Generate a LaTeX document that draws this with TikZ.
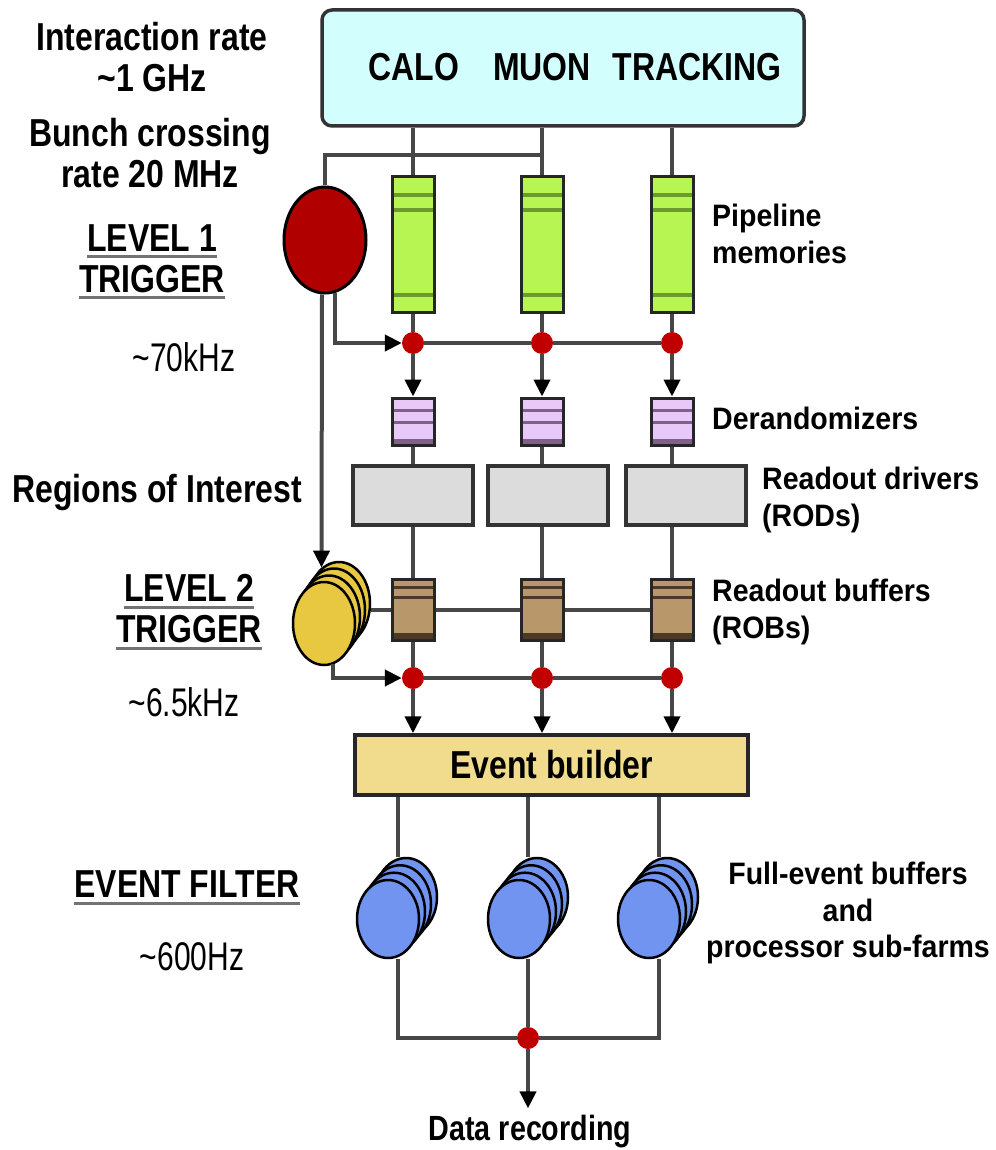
\documentclass[tikz,border=0pt]{standalone}
\usepackage{fontspec}
\setmainfont{Liberation Sans}[FakeStretch=0.92]
\newfontfamily\condfont{Liberation Sans}[FakeStretch=0.82]
\newfontfamily\ratefont{Liberation Sans}[FakeStretch=0.75]
\usepackage{tikz}
\usetikzlibrary{positioning,arrows.meta,calc,shapes.geometric}

\definecolor{detcyan}{HTML}{D2FFFE}
\definecolor{trigred}{HTML}{B00000}
\definecolor{dotred}{HTML}{C00000}
\definecolor{pipegreen}{HTML}{B6F552}
\definecolor{pipedark}{HTML}{6C9A30}
\definecolor{derpurple}{HTML}{E8C8F8}
\definecolor{derdark}{HTML}{806088}
\definecolor{rodgray}{HTML}{DCDCDC}
\definecolor{robtan}{HTML}{B8976A}
\definecolor{robdark}{HTML}{4A3A28}
\definecolor{l2yellow}{HTML}{E8C840}
\definecolor{evbuild}{HTML}{F0DC8C}
\definecolor{efblue}{HTML}{7094F0}

% underline of one line of a trigger label
\newcommand{\ulabel}[1]{\leavevmode\setbox0=\hbox{#1}\rlap{\textcolor{black!55}{\rule[-7pt]{\wd0}{3pt}}}\box0}

\begin{document}
\begin{tikzpicture}[
  x=1pt, y=-1pt,
  wire/.style={line width=4pt, black!72},
  arr/.style={wire, -{Triangle[length=17pt,width=16pt,color=black]}},
  dot/.style={circle, fill=dotred, minimum size=22pt, inner sep=0pt},
  lab/.style={font=\condfont\bfseries\fontsize{39}{41}\selectfont, align=center, inner sep=0pt},
  rate/.style={font=\ratefont\fontsize{40}{40}\selectfont, inner sep=0pt},
  desc/.style={font=\bfseries\fontsize{31}{36.5}\selectfont, align=left, anchor=west, inner sep=0pt},
  detbox/.style={draw=black!80, line width=3.5pt, fill=detcyan, rounded corners=10pt},
  pipe/.style={draw=black!85, line width=3pt, fill=pipegreen, minimum width=42pt, minimum height=135pt, inner sep=0pt,
    path picture={\draw[pipedark, line width=4pt]
      ([yshift=-18pt]path picture bounding box.north west) -- ([yshift=-18pt]path picture bounding box.north east)
      ([yshift=-33pt]path picture bounding box.north west) -- ([yshift=-33pt]path picture bounding box.north east)
      ([yshift=17pt]path picture bounding box.south west) -- ([yshift=17pt]path picture bounding box.south east);}},
  der/.style={draw=black!85, line width=3pt, fill=derpurple, minimum width=42pt, minimum height=47pt, inner sep=0pt,
    path picture={\draw[derdark, line width=3pt]
      ([yshift=-12pt]path picture bounding box.north west) -- ([yshift=-12pt]path picture bounding box.north east)
      ([yshift=-24pt]path picture bounding box.north west) -- ([yshift=-24pt]path picture bounding box.north east);
      \draw[derdark, line width=6pt]
      ([yshift=3pt]path picture bounding box.south west) -- ([yshift=3pt]path picture bounding box.south east);}},
  rod/.style={draw=black!80, line width=4pt, fill=rodgray, minimum width=120pt, minimum height=59pt, inner sep=0pt},
  rob/.style={draw=black!85, line width=3pt, fill=robtan, minimum width=42pt, minimum height=61pt, inner sep=0pt,
    path picture={\draw[robdark, line width=3pt]
      ([yshift=-8pt]path picture bounding box.north west) -- ([yshift=-8pt]path picture bounding box.north east)
      ([yshift=-18pt]path picture bounding box.north west) -- ([yshift=-18pt]path picture bounding box.north east);
      \draw[robdark, line width=6pt]
      ([yshift=4pt]path picture bounding box.south west) -- ([yshift=4pt]path picture bounding box.south east);}},
  l1disk/.style={ellipse, draw=black, line width=3pt, fill=trigred, minimum width=82pt, minimum height=106pt, inner sep=0pt},
  l2disk/.style={ellipse, draw=black, line width=2.5pt, fill=l2yellow, minimum width=62pt, minimum height=83pt, inner sep=0pt},
  efdisk/.style={ellipse, draw=black, line width=2.5pt, fill=efblue, minimum width=62pt, minimum height=78pt, inner sep=0pt},
  evb/.style={draw=black!85, line width=3.5pt, fill=evbuild, minimum width=393pt, minimum height=60pt,
    font=\condfont\bfseries\fontsize{39}{41}\selectfont}
]

  \path[use as bounding box, fill=white] (0,0) rectangle (995,1150);

  % Detector box
  \node[detbox, minimum width=482pt, minimum height=116pt] (det) at (563,68) {};
  \node[lab] (calo) at (414,67.5) {CALO};
  \node[lab] (muon) at (542,67.5) {MUON};
  \node[lab] (trk)  at (697,67.5) {TRACKING};

  % Pipeline memories
  \node[pipe] (pipe1) at (413,244.5) {};
  \node[pipe] (pipe2) at (542,244.5) {};
  \node[pipe] (pipe3) at (672,244.5) {};
  \draw[wire] (det.south -| pipe1) -- (pipe1.north);
  \draw[wire] (det.south -| pipe2) -- (pipe2.north);
  \draw[wire] (det.south -| pipe3) -- (pipe3.north);

  % Level 1 trigger
  \node[l1disk] (l1) at (325,240) {};
  \coordinate (tap) at (325,155);
  \draw[wire] (pipe2.north |- tap) -- (tap) -- (l1.north);

  % Level 1 accept
  \node[dot] (a1) at (413,343) {};
  \node[dot] (a2) at (542,343) {};
  \node[dot] (a3) at (672,343) {};
  \draw[wire] (pipe1.south) -- (a1);
  \draw[wire] (pipe2.south) -- (a2);
  \draw[wire] (pipe3.south) -- (a3);
  \draw[arr] ([xshift=10pt,yshift=2pt]l1.south) |- (a1.west);
  \draw[wire] (a1) -- (a2) -- (a3);

  % Derandomizers and RODs
  \node[der] (der1) at (413,421.5) {};
  \node[der] (der2) at (542,421.5) {};
  \node[der] (der3) at (672,421.5) {};
  \draw[arr] (a1) -- (der1.north);
  \draw[arr] (a2) -- (der2.north);
  \draw[arr] (a3) -- (der3.north);
  \node[rod] (rod1) at (413,495.5) {};
  \node[rod] (rod2) at (548,495.5) {};
  \node[rod] (rod3) at (686,495.5) {};
  \draw[wire] (der1.south) -- (der1.south |- rod1.north);
  \draw[wire] (der2.south) -- (der2.south |- rod2.north);
  \draw[wire] (der3.south) -- (der3.south |- rod3.north);

  % ROBs
  \node[rob] (rob1) at (413,609.5) {};
  \node[rob] (rob2) at (542,609.5) {};
  \node[rob] (rob3) at (672,609.5) {};
  \draw[wire] (der1.south |- rod1.south) -- (rob1.north);
  \draw[wire] (der2.south |- rod2.south) -- (rob2.north);
  \draw[wire] (der3.south |- rod3.south) -- (rob3.north);

  % Level 2 trigger
  \node[l2disk] (l2c) at (339,603.5) {};
  \node[l2disk] (l2b) at (334,610) {};
  \node[l2disk] (l2a) at (329,617) {};
  \node[l2disk] (l2)  at (324,623.5) {};
  \draw[arr] ([xshift=-3pt]l1.south) -- (l2c.116);
  \draw[wire] (l2c.east |- rob1) -- (rob1.west);
  \draw[wire] (rob1.east) -- (rob2.west);
  \draw[wire] (rob2.east) -- (rob3.west);

  % Level 2 accept
  \node[dot] (b1) at (413,678) {};
  \node[dot] (b2) at (542,678) {};
  \node[dot] (b3) at (672,678) {};
  \draw[wire] (rob1.south) -- (b1);
  \draw[wire] (rob2.south) -- (b2);
  \draw[wire] (rob3.south) -- (b3);
  \draw[arr] ([xshift=9pt,yshift=2pt]l2.south) |- (b1.west);
  \draw[wire] (b1) -- (b2) -- (b3);

  % Event builder
  \node[evb] (evb) at (551.5,765) {Event builder};
  \draw[arr] (b1) -- (b1 |- evb.north);
  \draw[arr] (b2) -- (b2 |- evb.north);
  \draw[arr] (b3) -- (b3 |- evb.north);

  % Event filter sub-farms
  \coordinate (efx1) at (398,0);
  \coordinate (efx2) at (528,0);
  \coordinate (efx3) at (659,0);
  \node[efdisk] (ef1c) at (406,897) {};
  \node[efdisk] (ef1b) at (400,904.3) {};
  \node[efdisk] (ef1a) at (394,911.7) {};
  \node[efdisk] (ef1)  at (388,919) {};
  \node[efdisk] (ef2c) at (537,897) {};
  \node[efdisk] (ef2b) at (531,904.3) {};
  \node[efdisk] (ef2a) at (525,911.7) {};
  \node[efdisk] (ef2)  at (519,919) {};
  \node[efdisk] (ef3c) at (667,897) {};
  \node[efdisk] (ef3b) at (661,904.3) {};
  \node[efdisk] (ef3a) at (655,911.7) {};
  \node[efdisk] (ef3)  at (649,919) {};
  \draw[wire] (evb.south -| efx1) -- (ef1c.north -| efx1);
  \draw[wire] (evb.south -| efx2) -- (ef2c.north -| efx2);
  \draw[wire] (evb.south -| efx3) -- (ef3c.north -| efx3);

  % Data recording
  \node[dot] (rec) at (528,1038) {};
  \node[lab, font=\condfont\bfseries\fontsize{35}{35}\selectfont] (datarec) at (530,1132) {Data recording};
  \draw[wire] (ef1.south -| efx1) |- (rec);
  \draw[wire] (ef3.south -| efx3) |- (rec);
  \draw[wire] (ef2.south -| efx2) -- (rec);
  \draw[arr, shorten >=7pt] (rec) -- (rec |- datarec.north);

  % Labels on the left
  \node[lab] (irate)  at (152,57.5) {Interaction rate\\\textasciitilde1 GHz};
  \node[lab] (bcross) at (150,153)  {Bunch crossing\\rate 20 MHz};
  \node[lab] (lvl1)   at (152,262)  {\ulabel{LEVEL 1}\\\ulabel{TRIGGER}};
  \node[rate] (rate1) at (184,357)  {\textasciitilde70kHz};
  \node[lab] (roi)    at (157,492)  {Regions of Interest};
  \node[lab] (lvl2)   at (189,612)  {\ulabel{LEVEL 2}\\\ulabel{TRIGGER}};
  \node[rate] (rate2) at (184,702)  {\textasciitilde6.5kHz};
  \node[lab] (evf)    at (187,888)  {\ulabel{EVENT FILTER}};
  \node[rate] (rate3) at (192,957)  {\textasciitilde600Hz};

  % Labels on the right
  \node[desc] (pipelbl) at (712,234) {Pipeline\\memories};
  \node[desc] (derlbl)  at (712,418) {Derandomizers};
  \node[desc] (rodlbl)  at (762,500) {Readout drivers\\(RODs)};
  \node[desc] (roblbl)  at (712,612) {Readout buffers\\(ROBs)};
  \node[desc, align=center, anchor=center] (eflbl) at (848,913) {Full-event buffers\\and\\processor sub-farms};

\end{tikzpicture}
\end{document}
